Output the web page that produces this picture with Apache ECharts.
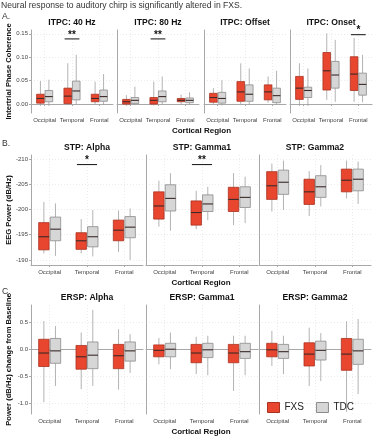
<!DOCTYPE html>
<html>
<head>
<meta charset="utf-8">
<script src="https://cdn.jsdelivr.net/npm/echarts@6/dist/echarts.min.js"></script>
<style>
  html, body { margin: 0; padding: 0; background: #fff; }
  #main { width: 375px; height: 440px; }
</style>
</head>
<body>
<div id="main"></div>
<script>
  // box stats per region: [min, q1, median, q3, max]
  const regions = ['Occipital', 'Temporal', 'Frontal'];

  const itpcFacets = ['ITPC: 40 Hz', 'ITPC: 80 Hz', 'ITPC: Offset', 'ITPC: Onset'];
  const itpcFXS = [
    [[-0.004, 0.002, 0.012, 0.021, 0.049], [-0.002, 0.001, 0.017, 0.034, 0.087], [0.000, 0.005, 0.012, 0.021, 0.048]],
    [[-0.004, 0.000, 0.005, 0.010, 0.019], [-0.003, 0.000, 0.008, 0.014, 0.048], [0.000, 0.005, 0.008, 0.012, 0.020]],
    [[0.000, 0.004, 0.014, 0.023, 0.034], [0.000, 0.006, 0.026, 0.048, 0.087], [0.003, 0.009, 0.026, 0.041, 0.059]],
    [[-0.004, 0.010, 0.034, 0.059, 0.087], [0.009, 0.030, 0.071, 0.110, 0.151], [0.005, 0.029, 0.064, 0.101, 0.141]]
  ];
  const itpcTDC = [
    [[-0.004, 0.005, 0.016, 0.029, 0.052], [0.000, 0.009, 0.028, 0.049, 0.105], [-0.002, 0.006, 0.016, 0.030, 0.064]],
    [[-0.002, 0.001, 0.008, 0.014, 0.037], [0.000, 0.005, 0.016, 0.028, 0.059], [-0.002, 0.003, 0.008, 0.013, 0.025]],
    [[-0.003, 0.002, 0.012, 0.025, 0.051], [-0.002, 0.006, 0.021, 0.041, 0.076], [-0.002, 0.003, 0.018, 0.034, 0.071]],
    [[-0.004, 0.014, 0.029, 0.036, 0.076], [0.005, 0.034, 0.062, 0.091, 0.137], [0.004, 0.019, 0.042, 0.066, 0.105]]
  ];

  const stpFacets = ['STP: Alpha', 'STP: Gamma1', 'STP: Gamma2'];
  const stpFXS = [
    [[-201.5, -197.4, -194.6, -192.0, -191.3], [-198.1, -195.4, -193.8, -192.1, -191.3], [-199.8, -197.9, -195.9, -193.8, -191.6]],
    [[-205.7, -203.5, -200.7, -198.1, -196.6], [-203.7, -201.7, -199.4, -196.9, -196.1], [-207.2, -204.4, -202.0, -199.6, -196.9]],
    [[-209.1, -207.5, -204.7, -202.0, -199.6], [-207.6, -206.0, -203.5, -201.0, -198.7], [-209.7, -208.0, -205.8, -203.5, -202.2]]
  ];
  const stpTDC = [
    [[-201.2, -198.5, -196.1, -193.8, -190.8], [-199.9, -196.6, -194.6, -192.6, -190.7], [-200.2, -198.6, -196.5, -194.4, -190.0]],
    [[-207.2, -204.9, -202.2, -199.7, -195.8], [-204.5, -202.9, -201.1, -199.6, -197.9], [-206.5, -204.5, -202.4, -200.4, -197.3]],
    [[-209.7, -207.8, -205.4, -203.0, -199.9], [-208.8, -206.7, -204.5, -202.4, -200.6], [-209.5, -208.0, -206.0, -203.7, -201.1]]
  ];

  const erspFacets = ['ERSP: Alpha', 'ERSP: Gamma1', 'ERSP: Gamma2'];
  const erspFXS = [
    [[-0.98, -0.32, -0.07, 0.185, 0.52], [-0.74, -0.37, -0.14, 0.07, 0.31], [-0.75, -0.36, -0.12, 0.09, 0.37]],
    [[-0.28, -0.14, -0.02, 0.08, 0.21], [-0.46, -0.25, -0.07, 0.09, 0.23], [-0.77, -0.25, -0.07, 0.09, 0.25]],
    [[-0.31, -0.14, -0.01, 0.11, 0.34], [-0.68, -0.31, -0.09, 0.12, 0.40], [-1.16, -0.39, -0.09, 0.20, 0.52]]
  ];
  const erspTDC = [
    [[-0.68, -0.26, -0.03, 0.20, 0.43], [-0.68, -0.36, -0.11, 0.135, 0.73], [-0.44, -0.22, -0.03, 0.135, 0.28]],
    [[-0.37, -0.14, 0.00, 0.11, 0.31], [-0.48, -0.155, -0.01, 0.11, 0.25], [-0.48, -0.17, -0.045, 0.11, 0.25]],
    [[-0.46, -0.17, -0.045, 0.09, 0.25], [-0.59, -0.20, -0.02, 0.15, 0.30], [-0.83, -0.28, -0.03, 0.185, 0.56]]
  ];

  // significance marks: [panel, facet, region, y level, label]
  const sigMarks = [
    [0, 0, 1, 0.139, '**'],
    [0, 1, 1, 0.139, '**'],
    [0, 3, 2, 0.148, '*'],
    [1, 0, 1, -208.9, '*'],
    [1, 1, 1, -208.9, '**']
  ];

  const FONT = '"Liberation Sans", Arial, sans-serif';
  const RED = '#E8462E', RED_LINE = '#A83222';
  const GREY = '#D6D6D6', GREY_LINE = '#8A8A8A';

  const panels = [
    { letter: 'A.', letterY: 17, yTitle: 'Intertrial Phase Coherence', facets: itpcFacets, fxs: itpcFXS, tdc: itpcTDC,
      top: 30, height: 83, lefts: [31, 117, 204, 290], width: 82, min: -0.019, max: 0.158, inverse: false, dec: 2 },
    { letter: 'B.', letterY: 144, yTitle: 'EEG Power (dB/Hz)', facets: stpFacets, fxs: stpFXS, tdc: stpTDC,
      top: 155, height: 110, lefts: [31, 146, 259], width: 112, min: -210.8, max: -189.0, inverse: true, dec: 0 },
    { letter: 'C.', letterY: 292, yTitle: 'Power (dB/Hz) change from Baseline', facets: erspFacets, fxs: erspFXS, tdc: erspTDC,
      top: 305, height: 109, lefts: [31, 146, 259], width: 112, min: -1.2, max: 0.82, inverse: false, dec: 1 }
  ];

  function boxRenderer(shift, fill, stroke) {
    return function (params, api) {
      const cat = api.value(0);
      const band = api.size([1, 0])[0];
      const cx = api.coord([cat, api.value(3)])[0] + shift * band;
      const w = band * 0.28;
      const y = i => api.coord([cat, api.value(i)])[1];
      const yMin = y(1), yQ1 = y(2), yMed = y(3), yQ3 = y(4), yMax = y(5);
      const wl = { stroke: '#A0A0A0', lineWidth: 0.8 };
      return {
        type: 'group',
        children: [
          { type: 'line', shape: { x1: cx, y1: yMin, x2: cx, y2: yQ1 }, style: wl },
          { type: 'line', shape: { x1: cx, y1: yQ3, x2: cx, y2: yMax }, style: wl },
          { type: 'rect', shape: { x: cx - w / 2, y: Math.min(yQ1, yQ3), width: w, height: Math.abs(yQ1 - yQ3) },
            style: { fill: fill, stroke: stroke, lineWidth: 0.8 } },
          { type: 'line', shape: { x1: cx - w / 2, y1: yMed, x2: cx + w / 2, y2: yMed }, style: { stroke: '#3a2a28', lineWidth: 1.1 } }
        ]
      };
    };
  }

  function sigRenderer(label) {
    return function (params, api) {
      const band = api.size([1, 0])[0];
      const p = api.coord([api.value(0), api.value(1)]);
      return {
        type: 'group',
        children: [
          { type: 'line', shape: { x1: p[0] - band * 0.27, y1: p[1], x2: p[0] + band * 0.27, y2: p[1] },
            style: { stroke: '#111', lineWidth: 1 } },
          { type: 'text', x: p[0], y: p[1] + 1,
            style: { text: label, font: 'bold 10px ' + FONT, fill: '#111', align: 'center', verticalAlign: 'bottom',
                     textAlign: 'center', textVerticalAlign: 'bottom' } }
        ]
      };
    };
  }

  const grid = [], xAxis = [], yAxis = [], series = [], graphic = [];

  graphic.push({ type: 'text', x: 1, y: 6, style: { text: 'Neural response to auditory chirp is significantly altered in FXS.',
    font: '8.6px ' + FONT, fill: '#333', textVerticalAlign: 'middle', verticalAlign: 'middle' } });

  panels.forEach((pn, pi) => {
    graphic.push({ type: 'text', x: 2, y: pn.letterY, style: { text: pn.letter, font: '8.6px ' + FONT, fill: '#333',
      textVerticalAlign: 'middle', verticalAlign: 'middle' } });
    graphic.push({ type: 'text', x: 9, y: pn.top + pn.height / 2, rotation: Math.PI / 2,
      style: { text: pn.yTitle, font: 'bold 7.6px ' + FONT, fill: '#111', align: 'center', verticalAlign: 'middle',
               textAlign: 'center', textVerticalAlign: 'middle' } });
    const lastRight = pn.lefts[pn.lefts.length - 1] + pn.width;
    graphic.push({ type: 'text', x: (pn.lefts[0] + lastRight) / 2, y: pn.top + pn.height + 18,
      style: { text: 'Cortical Region', font: 'bold 8px ' + FONT, fill: '#111', align: 'center', verticalAlign: 'middle',
               textAlign: 'center', textVerticalAlign: 'middle' } });

    pn.facets.forEach((name, fi) => {
      const gi = grid.length;
      const first = fi === 0;
      grid.push({ left: pn.lefts[fi], top: pn.top, width: pn.width, height: pn.height, containLabel: false });
      graphic.push({ type: 'text', x: pn.lefts[fi] + pn.width / 2, y: pn.top - 7,
        style: { text: name, font: 'bold 8.6px ' + FONT, fill: '#111', align: 'center', verticalAlign: 'middle',
                 textAlign: 'center', textVerticalAlign: 'middle' } });
      xAxis.push({
        type: 'category', gridIndex: gi, data: regions, boundaryGap: true,
        axisLine: { lineStyle: { color: '#A8A8A8', width: 1 } },
        axisTick: { show: true, alignWithLabel: true, length: 2, lineStyle: { color: '#A8A8A8' } },
        axisLabel: { fontSize: 6, color: '#444', margin: 4, fontFamily: FONT, interval: 0 },
        splitLine: { show: true, alignWithLabel: true, lineStyle: { color: '#E6E6E6', type: [1, 2], width: 0.8 } }
      });
      yAxis.push({
        type: 'value', gridIndex: gi, min: pn.min, max: pn.max, inverse: pn.inverse, splitNumber: 4,
        axisLine: { show: true, lineStyle: { color: '#A8A8A8', width: 1 } },
        axisTick: { show: first, length: 2, lineStyle: { color: '#A8A8A8' } },
        axisLabel: { show: first, fontSize: 6, color: '#444', margin: 3, fontFamily: FONT,
          showMinLabel: false, showMaxLabel: false, formatter: v => v.toFixed(pn.dec) },
        splitLine: { show: true, showMinLine: false, showMaxLine: false,
          lineStyle: { color: '#E6E6E6', type: [1, 2], width: 0.8 } }
      });
      const toData = arr => arr.map((s, ri) => [ri].concat(s));
      series.push({
        name: 'FXS', type: 'custom', xAxisIndex: gi, yAxisIndex: gi, itemStyle: { color: RED },
        encode: { x: 0, y: [1, 2, 3, 4, 5] }, renderItem: boxRenderer(-0.155, RED, RED_LINE), data: toData(pn.fxs[fi])
      });
      series.push({
        name: 'TDC', type: 'custom', xAxisIndex: gi, yAxisIndex: gi, itemStyle: { color: GREY },
        encode: { x: 0, y: [1, 2, 3, 4, 5] }, renderItem: boxRenderer(0.155, GREY, GREY_LINE), data: toData(pn.tdc[fi])
      });
      sigMarks.filter(m => m[0] === pi && m[1] === fi).forEach(m => {
        series.push({
          type: 'custom', xAxisIndex: gi, yAxisIndex: gi, silent: true, z: 5,
          encode: { x: 0, y: 1 }, renderItem: sigRenderer(m[4]), data: [[m[2], m[3]]]
        });
      });
    });
  });

  const chart = echarts.init(document.getElementById('main'), null, { renderer: 'canvas' });
  chart.setOption({
    animation: false,
    backgroundColor: '#fff',
    textStyle: { fontFamily: FONT },
    grid: grid,
    xAxis: xAxis,
    yAxis: yAxis,
    legend: {
      data: [
        { name: 'FXS', itemStyle: { color: RED, borderColor: RED_LINE, borderWidth: 1 } },
        { name: 'TDC', itemStyle: { color: GREY, borderColor: GREY_LINE, borderWidth: 1 } }
      ],
      icon: 'rect', itemWidth: 12, itemHeight: 10, itemGap: 12,
      left: 262, top: 397,
      textStyle: { fontSize: 10, color: '#222', fontFamily: FONT }
    },
    graphic: graphic,
    series: series
  });
</script>
</body>
</html>
